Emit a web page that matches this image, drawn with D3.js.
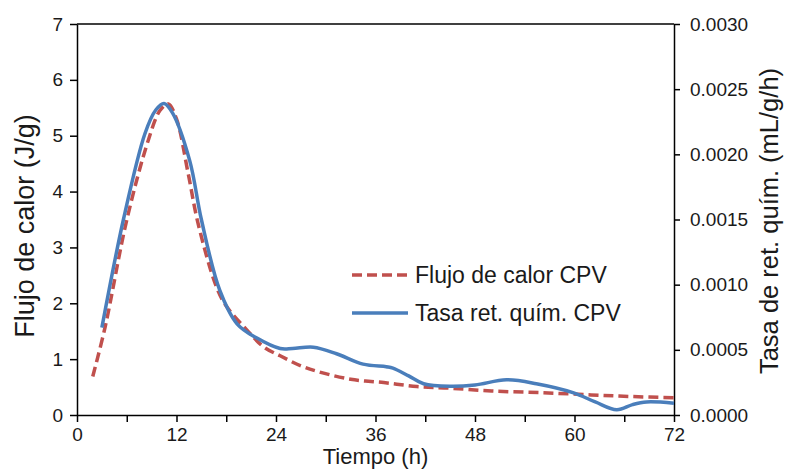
<!DOCTYPE html>
<html>
<head>
<meta charset="utf-8">
<script src="https://cdn.jsdelivr.net/npm/d3@7"></script>
<style>
  body { margin: 0; background: #fff; }
  svg text { font-family: "Liberation Sans", Arial, sans-serif; fill: #1a1a1a; }
</style>
</head>
<body>
<svg id="chart" width="785" height="471"></svg>
<script>
"use strict"

// heat flow (J/g)
const heatHours = [1.9, 3.4, 6.0, 8.6, 10, 11, 12, 13.4, 14.6, 16.8, 18, 20.5, 22.5, 24.5, 27, 29, 33, 37, 41, 45, 50, 56, 62, 67, 72]
const heatFlow = [0.69, 1.58, 3.49, 4.92, 5.45, 5.57, 5.3, 4.33, 3.43, 2.30, 1.95, 1.52, 1.22, 1.06, 0.88, 0.78, 0.64, 0.58, 0.51, 0.48, 0.43, 0.40, 0.36, 0.33, 0.31]

// chemical retention rate (mL/g/h)
const rateHours = [3, 5.6, 8.2, 9.5, 10.5, 11.5, 13.6, 15.0, 17.2, 19.3, 21.7, 24.5, 26, 28.5, 31.3, 34.5, 37.3, 38.1, 40, 41.8, 45, 48, 51.8, 55.4, 59.9, 62.5, 65.1, 67, 68.7, 72]
const rateValues = [0.00067, 0.00150, 0.00216, 0.00234, 0.00239, 0.00232, 0.00195, 0.00150, 0.00096, 0.00070, 0.00059, 0.00051, 0.00051, 0.00052, 0.00047, 0.00039, 0.00037, 0.00036, 0.00030, 0.00024, 0.00022, 0.00023, 0.00027, 0.00024, 0.00017, 0.00010, 0.00004, 0.00008, 0.00010, 0.00009]

const xTicks = [0, 6, 12, 18, 24, 30, 36, 42, 48, 54, 60, 66, 72]
const leftTicks = [0, 1, 2, 3, 4, 5, 6, 7]
const rightTicks = [0, 0.0005, 0.0010, 0.0015, 0.0020, 0.0025, 0.0030]

const legendLabels = ['Flujo de calor CPV', 'Tasa ret. quím. CPV']
const xTitle = 'Tiempo (h)'
const leftTitle = 'Flujo de calor (J/g)'
const rightTitle = 'Tasa de ret. quím. (mL/g/h)'

const RED = '#c0504d'
const BLUE = '#4a7ebb'

const plot = {left: 77, right: 674, top: 24, bottom: 415}
const svg = d3.select('#chart')

const x = d3.scaleLinear().domain([0, 72]).range([plot.left, plot.right])
const yL = d3.scaleLinear().domain([0, 7]).range([plot.bottom, plot.top])
const yR = d3.scaleLinear().domain([0, 0.003]).range([plot.bottom, plot.top])

// top border
svg.append('line')
  .attr('x1', plot.left).attr('x2', plot.right)
  .attr('y1', plot.top).attr('y2', plot.top)
  .attr('stroke', '#000').attr('stroke-width', 1.5)

const styleAxis = (g, size) => {
  g.select('.domain').attr('stroke', '#000').attr('stroke-width', 1.5)
  g.selectAll('.tick line').attr('stroke', '#000').attr('stroke-width', 1.5)
  g.selectAll('.tick text').attr('font-size', size).attr('fill', '#1a1a1a')
    .style('font-family', '"Liberation Sans", Arial, sans-serif')
}

const xAxis = svg.append('g')
  .attr('transform', `translate(0,${plot.bottom})`)
  .call(d3.axisBottom(x).tickValues(xTicks).tickSize(7).tickSizeOuter(0)
    .tickFormat(d => d % 12 === 0 ? d : ''))
styleAxis(xAxis, 19)
xAxis.selectAll('.tick text').attr('y', 13)

const leftAxis = svg.append('g')
  .attr('transform', `translate(${plot.left},0)`)
  .call(d3.axisLeft(yL).tickValues(leftTicks).tickSize(7).tickSizeOuter(0).tickFormat(d3.format('d')))
styleAxis(leftAxis, 19)
leftAxis.selectAll('.tick text').attr('x', -14)

const rightAxis = svg.append('g')
  .attr('transform', `translate(${plot.right},0)`)
  .call(d3.axisRight(yR).tickValues(rightTicks).tickSize(6).tickSizeOuter(0).tickFormat(d3.format('.4f')))
styleAxis(rightAxis, 19)
rightAxis.selectAll('.tick text').attr('x', 16)

// titles
svg.append('text')
  .attr('x', (plot.left + plot.right) / 2).attr('y', 464)
  .attr('text-anchor', 'middle').attr('font-size', 22)
  .text(xTitle)

svg.append('text')
  .attr('transform', 'translate(34,226) rotate(-90)')
  .attr('text-anchor', 'middle').attr('font-size', 27)
  .text(leftTitle)

svg.append('text')
  .attr('transform', 'translate(778,221) rotate(-90)')
  .attr('text-anchor', 'middle').attr('font-size', 25.5)
  .text(rightTitle)

// curves
const heatData = heatHours.map((h, i) => [h, heatFlow[i]])
const rateData = rateHours.map((h, i) => [h, rateValues[i]])

svg.append('path')
  .datum(heatData)
  .attr('fill', 'none')
  .attr('stroke', RED)
  .attr('stroke-width', 3.5)
  .attr('stroke-dasharray', '10,5')
  .attr('d', d3.line().curve(d3.curveCatmullRom.alpha(0.5)).x(d => x(d[0])).y(d => yL(d[1])))

svg.append('path')
  .datum(rateData)
  .attr('fill', 'none')
  .attr('stroke', BLUE)
  .attr('stroke-width', 3.5)
  .attr('d', d3.line().curve(d3.curveCatmullRom.alpha(0.5)).x(d => x(d[0])).y(d => yR(d[1])))

// legend
const legend = svg.append('g').attr('transform', 'translate(352,275)')
const items = legend.selectAll('g').data(legendLabels).enter().append('g')
  .attr('transform', (d, i) => `translate(0,${i * 38})`)
items.append('line')
  .attr('x1', 0).attr('x2', 56).attr('y1', 0).attr('y2', 0)
  .attr('stroke', (d, i) => i === 0 ? RED : BLUE)
  .attr('stroke-width', 3.5)
  .attr('stroke-dasharray', (d, i) => i === 0 ? '10,5' : null)
items.append('text')
  .attr('x', 63).attr('y', 8)
  .attr('font-size', 23)
  .text(d => d)
</script>
</body>
</html>
